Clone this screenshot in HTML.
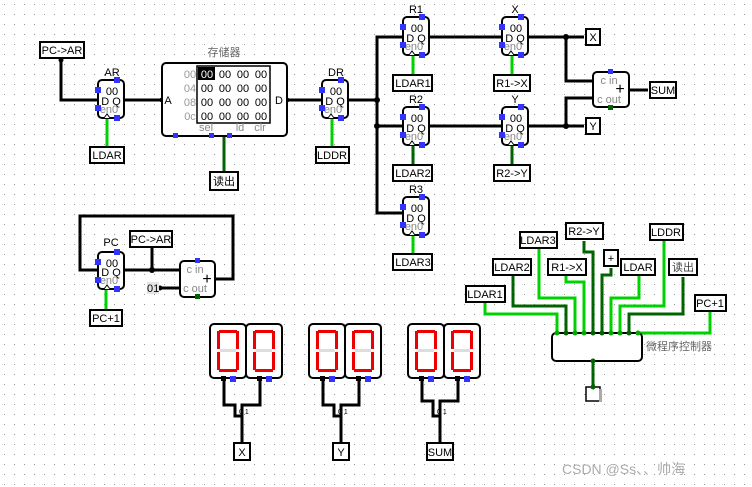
<!DOCTYPE html>
<html><head><meta charset="utf-8"><style>
html,body{margin:0;padding:0;background:#fff;}
svg{display:block;font-family:"Liberation Sans","Noto Sans CJK SC",sans-serif;}
.w{stroke:#000;stroke-width:3;fill:none;stroke-linejoin:miter}
.g{stroke:#00d200;stroke-width:3;fill:none}
.dg{stroke:#006400;stroke-width:3;fill:none}
.box{fill:#fff;stroke:#000;stroke-width:2}
.bp{fill:#3333ff}
.t{font-size:11px;fill:#000;text-anchor:middle}
.gr{font-size:11px;fill:#888;text-anchor:middle}
.seg{fill:#e00}
.segoff{fill:#ddd}
</style></head><body>
<svg width="752" height="487" viewBox="0 0 752 487" xmlns="http://www.w3.org/2000/svg">
<defs>
<pattern id="grid" width="10" height="10" patternUnits="userSpaceOnUse" x="4" y="4">
<rect x="0" y="0" width="1" height="1" fill="#999"/>
</pattern>
</defs>
<rect width="752" height="487" fill="url(#grid)"/>

<!-- ===== wires ===== -->
<polyline class="w" points="61,58 61,100 98,100"/>
<polyline class="w" points="124,100 162,100"/>
<polyline class="w" points="287,100 322,100"/>
<polyline class="w" points="348,100 377,100"/>
<polyline class="w" points="402,37 377,37 377,213 402,213"/>
<polyline class="w" points="377,126 402,126"/>
<polyline class="w" points="430,37 501,37"/>
<polyline class="w" points="430,126 501,126"/>
<polyline class="w" points="529,37 584,37"/>
<polyline class="w" points="529,126 584,126"/>
<polyline class="w" points="566,37 566,81 593,81"/>
<polyline class="w" points="566,126 566,98 593,98"/>
<polyline class="w" points="629,90 648,90"/>
<polyline class="g" points="107,118 107,147"/>
<polyline class="g" points="332,118 332,147"/>
<polyline class="dg" points="224,136 224,172"/>
<polyline class="g" points="413,55 413,75"/>
<polyline class="g" points="512,55 512,75"/>
<polyline class="dg" points="413,145 413,165"/>
<polyline class="dg" points="512,145 512,165"/>
<polyline class="g" points="413,236 413,254"/>

<!-- PC area -->
<polyline class="w" points="98,270 80,270 80,216 233,216 233,279 215,279"/>
<polyline class="w" points="124,270 180,270"/>
<polyline class="w" points="152,247 152,270"/>
<polyline class="w" points="160,288 180,288"/>
<polyline class="g" points="106,289 106,310"/>

<!-- controller wires -->
<polyline class="g" points="485,302 485,314 557,314 557,333"/>
<polyline class="dg" points="513,275 513,306 566,306 566,333"/>
<polyline class="g" points="539,249 539,298 575,298 575,333"/>
<polyline class="g" points="566,275 566,282 584,282 584,333"/>
<polyline class="dg" points="584,241 584,252 593,252 593,333"/>
<polyline class="dg" points="611,268 611,275 602,275 602,333"/>
<polyline class="g" points="639,275 639,298 611,298 611,333"/>
<polyline class="g" points="664,240 664,306 620,306 620,333"/>
<polyline class="dg" points="683,277 683,314 629,314 629,333"/>
<polyline class="g" points="710,312 710,333 638,333"/>
<polyline class="dg" points="593,360 593,387"/>

<!-- 7seg wires -->
<polyline class="w" points="224,378 224,405 235,405 235,416 242,416 242,443"/>
<polyline class="w" points="260,378 260,405 242,405 242,416"/>
<polyline class="w" points="323,378 323,405 334,405 334,416 341,416 341,443"/>
<polyline class="w" points="359,378 359,405 341,405 341,416"/>
<polyline class="w" points="422,378 422,401 433,401 433,416 440,416 440,443"/>
<polyline class="w" points="458,378 458,401 440,401 440,416"/>
<text x="239" y="414" font-size="7" fill="#000">0 1</text>
<text x="338" y="414" font-size="7" fill="#000">0 1</text>
<text x="437" y="414" font-size="7" fill="#000">0 1</text>

<!-- junction dots -->
<g fill="#000">
<circle cx="61" cy="60" r="2.5"/><circle cx="377" cy="100" r="3"/><circle cx="377" cy="126" r="3"/>
<circle cx="566" cy="37" r="3"/><circle cx="566" cy="126" r="3"/><circle cx="152" cy="270" r="3"/>
<circle cx="160" cy="288" r="2.5"/>
<circle cx="162" cy="100" r="2.5"/><circle cx="287" cy="100" r="2.5"/>
</g>

<!-- ===== registers ===== -->
<g transform="translate(98,80)">
<rect x="0" y="0" width="26" height="38" rx="4" class="box"/><path d="M6,38 L9,34 L12,38" fill="#fff" stroke="#000" stroke-width="1"/>
<text x="14" y="15" class="t">00</text><text x="13" y="25" class="t">D  Q</text><text x="11" y="33" class="gr">en0</text>
<rect x="16" y="-3" width="6" height="6" class="bp"/><rect x="-3" y="7" width="6" height="6" class="bp"/><rect x="-3" y="25" width="6" height="6" class="bp"/><rect x="16" y="35" width="6" height="6" class="bp"/>
</g>
<text x="112" y="76" class="t">AR</text>
<g transform="translate(322,80)">
<rect x="0" y="0" width="26" height="38" rx="4" class="box"/><path d="M6,38 L9,34 L12,38" fill="#fff" stroke="#000" stroke-width="1"/>
<text x="14" y="15" class="t">00</text><text x="13" y="25" class="t">D  Q</text><text x="11" y="33" class="gr">en0</text>
<rect x="16" y="-3" width="6" height="6" class="bp"/><rect x="-3" y="7" width="6" height="6" class="bp"/><rect x="-3" y="25" width="6" height="6" class="bp"/><rect x="16" y="35" width="6" height="6" class="bp"/>
</g>
<text x="336" y="76" class="t">DR</text>
<g transform="translate(403,17)">
<rect x="0" y="0" width="26" height="38" rx="4" class="box"/><path d="M6,38 L9,34 L12,38" fill="#fff" stroke="#000" stroke-width="1"/>
<text x="14" y="15" class="t">00</text><text x="13" y="25" class="t">D  Q</text><text x="11" y="33" class="gr">en0</text>
<rect x="16" y="-3" width="6" height="6" class="bp"/><rect x="-3" y="7" width="6" height="6" class="bp"/><rect x="-3" y="25" width="6" height="6" class="bp"/><rect x="16" y="35" width="6" height="6" class="bp"/>
</g>
<text x="416" y="13" class="t">R1</text>
<g transform="translate(502,17)">
<rect x="0" y="0" width="26" height="38" rx="4" class="box"/><path d="M6,38 L9,34 L12,38" fill="#fff" stroke="#000" stroke-width="1"/>
<text x="14" y="15" class="t">00</text><text x="13" y="25" class="t">D  Q</text><text x="11" y="33" class="gr">en0</text>
<rect x="16" y="-3" width="6" height="6" class="bp"/><rect x="-3" y="7" width="6" height="6" class="bp"/><rect x="-3" y="25" width="6" height="6" class="bp"/><rect x="16" y="35" width="6" height="6" class="bp"/>
</g>
<text x="515" y="13" class="t">X</text>
<g transform="translate(403,107)">
<rect x="0" y="0" width="26" height="38" rx="4" class="box"/><path d="M6,38 L9,34 L12,38" fill="#fff" stroke="#000" stroke-width="1"/>
<text x="14" y="15" class="t">00</text><text x="13" y="25" class="t">D  Q</text><text x="11" y="33" class="gr">en0</text>
<rect x="16" y="-3" width="6" height="6" class="bp"/><rect x="-3" y="7" width="6" height="6" class="bp"/><rect x="-3" y="25" width="6" height="6" class="bp"/><rect x="16" y="35" width="6" height="6" class="bp"/>
</g>
<text x="416" y="103" class="t">R2</text>
<g transform="translate(502,107)">
<rect x="0" y="0" width="26" height="38" rx="4" class="box"/><path d="M6,38 L9,34 L12,38" fill="#fff" stroke="#000" stroke-width="1"/>
<text x="14" y="15" class="t">00</text><text x="13" y="25" class="t">D  Q</text><text x="11" y="33" class="gr">en0</text>
<rect x="16" y="-3" width="6" height="6" class="bp"/><rect x="-3" y="7" width="6" height="6" class="bp"/><rect x="-3" y="25" width="6" height="6" class="bp"/><rect x="16" y="35" width="6" height="6" class="bp"/>
</g>
<text x="515" y="103" class="t">Y</text>
<g transform="translate(403,197)">
<rect x="0" y="0" width="26" height="38" rx="4" class="box"/><path d="M6,38 L9,34 L12,38" fill="#fff" stroke="#000" stroke-width="1"/>
<text x="14" y="15" class="t">00</text><text x="13" y="25" class="t">D  Q</text><text x="11" y="33" class="gr">en0</text>
<rect x="16" y="-3" width="6" height="6" class="bp"/><rect x="-3" y="7" width="6" height="6" class="bp"/><rect x="-3" y="25" width="6" height="6" class="bp"/><rect x="16" y="35" width="6" height="6" class="bp"/>
</g>
<text x="416" y="193" class="t">R3</text>
<g transform="translate(98,252)">
<rect x="0" y="0" width="26" height="37" rx="4" class="box"/><path d="M6,37 L9,33 L12,37" fill="#fff" stroke="#000" stroke-width="1"/>
<text x="14" y="15" class="t">00</text><text x="13" y="24" class="t">D  Q</text><text x="11" y="32" class="gr">en0</text>
<rect x="16" y="-3" width="6" height="6" class="bp"/><rect x="-3" y="7" width="6" height="6" class="bp"/><rect x="-3" y="25" width="6" height="6" class="bp"/><rect x="16" y="34" width="6" height="6" class="bp"/>
</g>
<text x="111" y="246" class="t">PC</text>

<!-- ===== memory ===== -->
<text x="224" y="56" class="gr" style="fill:#666">存储器</text>
<rect x="162" y="63" width="125" height="73" rx="4" class="box"/>
<rect x="197" y="66" width="73" height="57" fill="#fff" stroke="#000" stroke-width="1.5"/>
<rect x="198" y="67" width="17" height="13" fill="#000"/>
<g font-size="11" text-anchor="middle">
<text x="190" y="78" fill="#999">00</text><text x="190" y="92" fill="#999">04</text><text x="190" y="106" fill="#999">08</text><text x="190" y="120" fill="#999">0c</text>
<text x="207" y="78" fill="#fff">00</text><text x="225" y="78">00</text><text x="243" y="78">00</text><text x="261" y="78">00</text>
<text x="207" y="92">00</text><text x="225" y="92">00</text><text x="243" y="92">00</text><text x="261" y="92">00</text>
<text x="207" y="106">00</text><text x="225" y="106">00</text><text x="243" y="106">00</text><text x="261" y="106">00</text>
<text x="207" y="120">00</text><text x="225" y="120">00</text><text x="243" y="120">00</text><text x="261" y="120">00</text>
<text x="206" y="131" fill="#888">sel</text><text x="240" y="131" fill="#888">ld</text><text x="260" y="131" fill="#888">clr</text>
</g>
<text x="168" y="104" class="t">A</text><text x="279" y="104" class="t">D</text>
<rect x="173" y="133" width="5" height="5" class="bp"/><rect x="209" y="133" width="5" height="5" class="bp"/><rect x="227" y="133" width="5" height="5" class="bp"/>

<!-- ===== adders ===== -->
<rect x="593" y="72" width="36" height="35" rx="4" class="box"/>
<text x="609" y="84" class="gr">c in</text><text x="609" y="103" class="gr">c out</text>
<text x="620" y="94" font-size="16" text-anchor="middle">+</text>
<rect x="608" y="69" width="5" height="5" class="bp"/><rect x="608" y="105" width="5" height="5" fill="#006400"/>
<rect x="180" y="261" width="35" height="36" rx="4" class="box"/>
<text x="195" y="273" class="gr">c in</text><text x="195" y="292" class="gr">c out</text>
<text x="207" y="284" font-size="16" text-anchor="middle">+</text>
<rect x="195" y="258" width="5" height="5" class="bp"/><rect x="195" y="294" width="5" height="5" fill="#006400"/>
<rect x="147" y="282" width="12" height="12" fill="#e4e4e4"/>
<text x="147" y="292" font-size="11">01</text>

<!-- ===== labels (tunnels/pins) ===== -->
<g font-size="11" text-anchor="middle">
<rect x="40" y="42" width="44" height="16" class="box"/><text x="62" y="54">PC-&gt;AR</text>
<rect x="90" y="147" width="34" height="16" class="box"/><text x="107" y="159">LDAR</text>
<rect x="316" y="147" width="33" height="16" class="box"/><text x="332" y="159">LDDR</text>
<rect x="210" y="172" width="28" height="18" class="box"/><text x="224" y="185">读出</text>
<rect x="393" y="75" width="39" height="16" class="box"/><text x="413" y="87">LDAR1</text>
<rect x="494" y="75" width="36" height="16" class="box"/><text x="512" y="87">R1-&gt;X</text>
<rect x="393" y="165" width="39" height="16" class="box"/><text x="413" y="177">LDAR2</text>
<rect x="494" y="165" width="36" height="16" class="box"/><text x="512" y="177">R2-&gt;Y</text>
<rect x="393" y="254" width="39" height="16" class="box"/><text x="413" y="266">LDAR3</text>
<rect x="586" y="29" width="14" height="16" class="box"/><text x="593" y="41">X</text>
<rect x="586" y="118" width="14" height="16" class="box"/><text x="593" y="130">Y</text>
<rect x="650" y="82" width="26" height="16" class="box"/><text x="663" y="94">SUM</text>
<rect x="130" y="231" width="42" height="16" class="box"/><text x="151" y="243">PC-&gt;AR</text>
<rect x="90" y="310" width="32" height="16" class="box"/><text x="106" y="322">PC+1</text>
<rect x="466" y="286" width="39" height="16" class="box"/><text x="485" y="298">LDAR1</text>
<rect x="493" y="259" width="38" height="16" class="box"/><text x="512" y="271">LDAR2</text>
<rect x="520" y="232" width="37" height="16" class="box"/><text x="538" y="244">LDAR3</text>
<rect x="548" y="259" width="38" height="16" class="box"/><text x="567" y="271">R1-&gt;X</text>
<rect x="566" y="223" width="37" height="16" class="box"/><text x="584" y="235">R2-&gt;Y</text>
<rect x="604" y="250" width="14" height="16" class="box"/><text x="611" y="262">+</text>
<rect x="621" y="259" width="34" height="16" class="box"/><text x="638" y="271">LDAR</text>
<rect x="650" y="224" width="33" height="16" class="box"/><text x="666" y="236">LDDR</text>
<rect x="669" y="259" width="28" height="16" class="box"/><text x="683" y="271" fill="#444">读出</text>
<rect x="695" y="295" width="31" height="16" class="box"/><text x="710" y="307">PC+1</text>
<rect x="234" y="443" width="16" height="17" class="box"/><text x="242" y="456">X</text>
<rect x="333" y="443" width="16" height="17" class="box"/><text x="341" y="456">Y</text>
<rect x="427" y="443" width="26" height="17" class="box"/><text x="440" y="456">SUM</text>
</g>

<!-- ===== controller ===== -->
<rect x="552" y="333" width="90" height="28" rx="4" class="box"/>
<text x="646" y="350" font-size="11" fill="#666">微程序控制器</text>
<rect x="586" y="387" width="14" height="14" fill="#fff" stroke="#000" stroke-width="1.5"/>
<rect x="599" y="389" width="3" height="13" fill="#aaa"/>
<g fill="#0a0"><circle cx="557" cy="333" r="2.5"/><circle cx="575" cy="333" r="2.5"/><circle cx="584" cy="333" r="2.5"/><circle cx="611" cy="333" r="2.5"/><circle cx="620" cy="333" r="2.5"/><circle cx="638" cy="333" r="2.5"/></g>
<g fill="#006400"><circle cx="566" cy="333" r="2.5"/><circle cx="593" cy="333" r="2.5"/><circle cx="602" cy="333" r="2.5"/><circle cx="629" cy="333" r="2.5"/><circle cx="593" cy="361" r="2.5"/><circle cx="593" cy="387" r="2.5"/></g>

<!-- ===== 7-seg displays ===== -->
<g id="d1" transform="translate(210,324)">
<rect x="0" y="0" width="36" height="54" rx="4" class="box"/>
<rect x="7" y="7" width="3" height="18" class="seg"/><rect x="26" y="7" width="3" height="18" class="seg"/><rect x="7" y="28" width="3" height="18" class="seg"/><rect x="26" y="28" width="3" height="18" class="seg"/>
<rect x="9" y="6" width="18" height="3" class="seg"/><rect x="9" y="45" width="18" height="3" class="seg"/><rect x="10" y="25" width="16" height="3" class="segoff"/>
<rect x="11" y="52" width="5" height="5" fill="#000"/><rect x="20" y="52" width="6" height="6" class="bp"/>
</g>
<g transform="translate(246,324)">
<rect x="0" y="0" width="36" height="54" rx="4" class="box"/>
<rect x="7" y="7" width="3" height="18" class="seg"/><rect x="26" y="7" width="3" height="18" class="seg"/><rect x="7" y="28" width="3" height="18" class="seg"/><rect x="26" y="28" width="3" height="18" class="seg"/>
<rect x="9" y="6" width="18" height="3" class="seg"/><rect x="9" y="45" width="18" height="3" class="seg"/><rect x="10" y="25" width="16" height="3" class="segoff"/>
<rect x="11" y="52" width="5" height="5" fill="#000"/><rect x="20" y="52" width="6" height="6" class="bp"/>
</g>
<g transform="translate(309,324)">
<rect x="0" y="0" width="36" height="54" rx="4" class="box"/>
<rect x="7" y="7" width="3" height="18" class="seg"/><rect x="26" y="7" width="3" height="18" class="seg"/><rect x="7" y="28" width="3" height="18" class="seg"/><rect x="26" y="28" width="3" height="18" class="seg"/>
<rect x="9" y="6" width="18" height="3" class="seg"/><rect x="9" y="45" width="18" height="3" class="seg"/><rect x="10" y="25" width="16" height="3" class="segoff"/>
<rect x="11" y="52" width="5" height="5" fill="#000"/><rect x="20" y="52" width="6" height="6" class="bp"/>
</g>
<g transform="translate(345,324)">
<rect x="0" y="0" width="36" height="54" rx="4" class="box"/>
<rect x="7" y="7" width="3" height="18" class="seg"/><rect x="26" y="7" width="3" height="18" class="seg"/><rect x="7" y="28" width="3" height="18" class="seg"/><rect x="26" y="28" width="3" height="18" class="seg"/>
<rect x="9" y="6" width="18" height="3" class="seg"/><rect x="9" y="45" width="18" height="3" class="seg"/><rect x="10" y="25" width="16" height="3" class="segoff"/>
<rect x="11" y="52" width="5" height="5" fill="#000"/><rect x="20" y="52" width="6" height="6" class="bp"/>
</g>
<g transform="translate(408,324)">
<rect x="0" y="0" width="36" height="54" rx="4" class="box"/>
<rect x="7" y="7" width="3" height="18" class="seg"/><rect x="26" y="7" width="3" height="18" class="seg"/><rect x="7" y="28" width="3" height="18" class="seg"/><rect x="26" y="28" width="3" height="18" class="seg"/>
<rect x="9" y="6" width="18" height="3" class="seg"/><rect x="9" y="45" width="18" height="3" class="seg"/><rect x="10" y="25" width="16" height="3" class="segoff"/>
<rect x="11" y="52" width="5" height="5" fill="#000"/><rect x="20" y="52" width="6" height="6" class="bp"/>
</g>
<g transform="translate(444,324)">
<rect x="0" y="0" width="36" height="54" rx="4" class="box"/>
<rect x="7" y="7" width="3" height="18" class="seg"/><rect x="26" y="7" width="3" height="18" class="seg"/><rect x="7" y="28" width="3" height="18" class="seg"/><rect x="26" y="28" width="3" height="18" class="seg"/>
<rect x="9" y="6" width="18" height="3" class="seg"/><rect x="9" y="45" width="18" height="3" class="seg"/><rect x="10" y="25" width="16" height="3" class="segoff"/>
<rect x="11" y="52" width="5" height="5" fill="#000"/><rect x="20" y="52" width="6" height="6" class="bp"/>
</g>

<text x="562" y="474" font-size="14" fill="#aaa">CSDN @Ss、、帅海</text>
</svg>
</body></html>
